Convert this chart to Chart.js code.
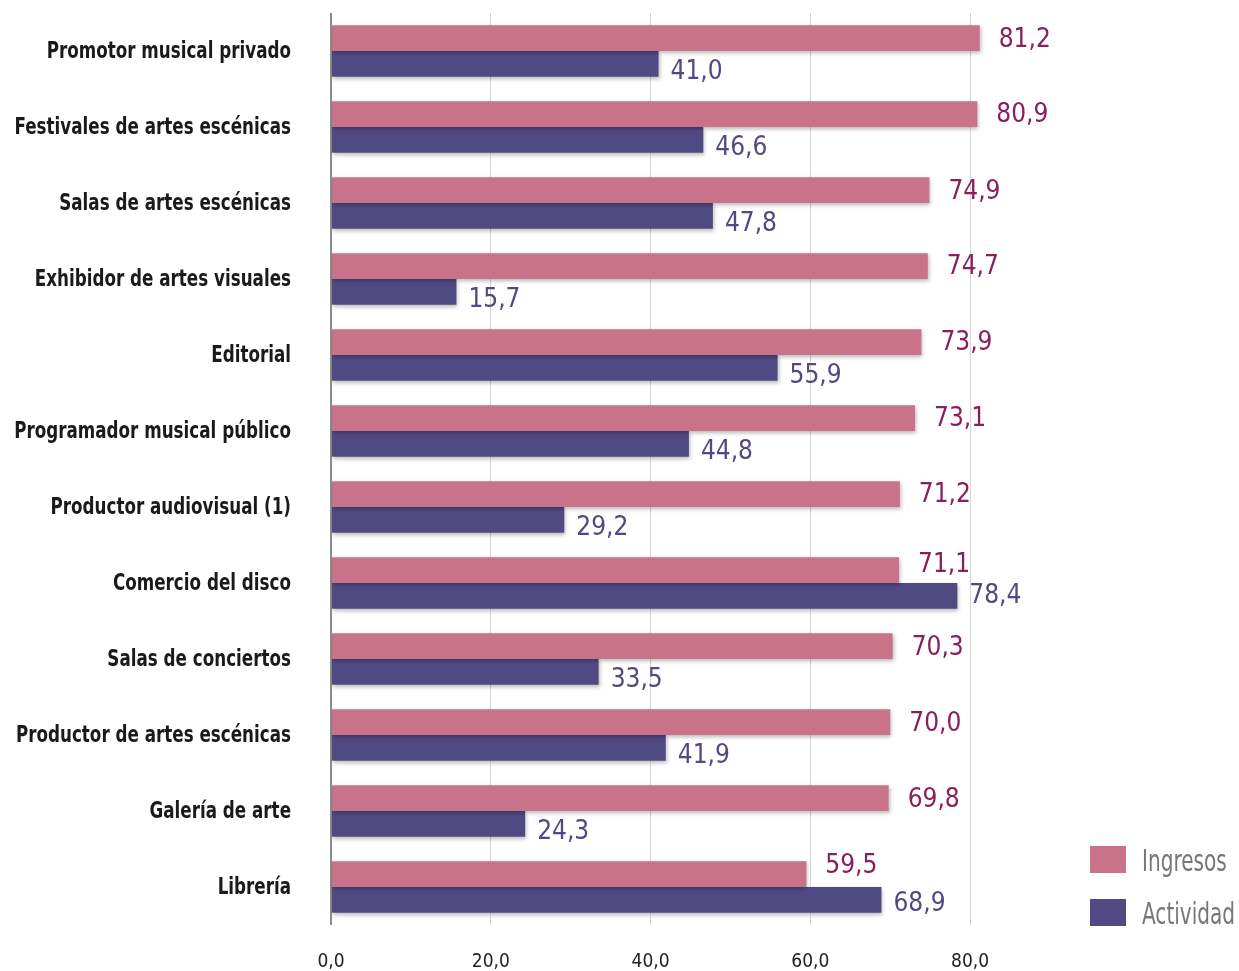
<!DOCTYPE html>
<html><head><meta charset="utf-8">
<script src="https://cdn.jsdelivr.net/npm/chart.js@4.4.1/dist/chart.umd.min.js"></script>
<style>
html,body{margin:0;padding:0;background:#fff;}
#wrap{position:relative;width:1239px;height:971px;overflow:hidden;}
#legend{position:absolute;left:1090px;top:833px;font-family:"DejaVu Sans Condensed","DejaVu Sans",sans-serif;font-weight:200;font-size:31px;color:#777;}
.li{display:flex;align-items:center;height:53px;}
.sw{width:36px;height:27px;margin-right:16px;flex:none;}
.li span{display:inline-block;transform:scaleX(0.72);transform-origin:left center;white-space:nowrap;}
</style></head>
<body><div id="wrap"><canvas id="c" width="1239" height="971"></canvas>
<div id="legend">
<div class="li"><div class="sw" style="background:#C9738A"></div><span id="l0"></span></div>
<div class="li"><div class="sw" style="background:#4F4A82"></div><span id="l1"></span></div>
</div></div>
<script>
const categories = ["Promotor musical privado","Festivales de artes escénicas","Salas de artes escénicas","Exhibidor de artes visuales","Editorial","Programador musical público","Productor audiovisual (1)","Comercio del disco","Salas de conciertos","Productor de artes escénicas","Galería de arte","Librería"];
const ingresos = [81.2,80.9,74.9,74.7,73.9,73.1,71.2,71.1,70.3,70.0,69.8,59.5];
const actividad = [41.0,46.6,47.8,15.7,55.9,44.8,29.2,78.4,33.5,41.9,24.3,68.9];
const tickValues = [0,20,40,60,80];
const seriesNames = ["Ingresos","Actividad"];

document.getElementById('l0').textContent = seriesNames[0];
document.getElementById('l1').textContent = seriesNames[1];

const FONT = '"DejaVu Sans Condensed","DejaVu Sans",sans-serif';
const fmt = v => v.toFixed(1).replace('.', ',');
// label vertical offsets (styling only)
const pinkDy = [2,1,2,1,1,1,1,-5,2,2,2,-8];
const blueDy = [8,8,8,8,8,8,8,0,8,8,8,4];

const shadowPlugin = {
  id:'shadow',
  beforeDatasetsDraw(chart){const c=chart.ctx;c.save();c.shadowColor='rgba(0,0,0,0.28)';c.shadowBlur=4;c.shadowOffsetX=1;c.shadowOffsetY=2;},
  afterDatasetsDraw(chart){chart.ctx.restore();}
};
const catLabelPlugin = {
  id:'catlabels',
  afterDraw(chart){
    const c=chart.ctx, y=chart.scales.y;
    c.save();
    c.font='bold 23px '+FONT;c.fillStyle='#1a1a1a';c.textAlign='right';c.textBaseline='middle';
    chart.data.labels.forEach((lab,i)=>{
      const py=y.getPixelForTick(i)+1;
      c.save();c.translate(291,py);c.scale(0.81,1);c.fillText(lab,0,0);c.restore();
    });
    c.restore();
  }
};
const labelPlugin = {
  id:'vlabels',
  afterDatasetsDraw(chart){
    const c=chart.ctx;c.save();
    c.font='26px '+FONT;c.textAlign='left';c.textBaseline='middle';
    chart.data.datasets.forEach((ds,di)=>{
      const meta=chart.getDatasetMeta(di);
      meta.data.forEach((bar,i)=>{
        const v=ds.data[i];
        if(di===0){c.fillStyle='#8A1F5C';c.fillText(fmt(v),bar.x+19,bar.y+pinkDy[i]);}
        else{c.fillStyle='#4F4A82';c.fillText(fmt(v),bar.x+12,bar.y+blueDy[i]);}
      });
    });
    c.restore();
  }
};

new Chart(document.getElementById('c'),{
  type:'bar',
  data:{labels:categories,datasets:[
    {label:seriesNames[0],data:ingresos,backgroundColor:'#C9738A',categoryPercentage:0.68,barPercentage:1.0},
    {label:seriesNames[1],data:actividad,backgroundColor:'#4F4A82',categoryPercentage:0.68,barPercentage:1.0}
  ]},
  options:{
    indexAxis:'y',responsive:false,animation:false,
    layout:{padding:{top:13,right:159,bottom:0,left:0}},
    plugins:{legend:{display:false},tooltip:{enabled:false}},
    scales:{
      x:{min:0,max:93.75,
        afterBuildTicks(ax){ax.ticks=tickValues.map(v=>({value:v}));},
        afterFit(ax){ax.height=46;},
        grid:{drawTicks:false,color:ctx=>ctx.tick&&ctx.tick.value===0?'#8c8c8c':'#d6d6d6',lineWidth:ctx=>ctx.tick&&ctx.tick.value===0?2:1},
        border:{display:false},
        ticks:{padding:26,color:'#222',font:{family:FONT,size:19},callback:v=>fmt(v)}
      },
      y:{
        afterFit(ax){ax.width=331;},
        grid:{display:false,drawTicks:false},
        border:{display:false},
        ticks:{display:false}
      }
    }
  },
  plugins:[shadowPlugin,labelPlugin,catLabelPlugin]
});
</script></body></html>
